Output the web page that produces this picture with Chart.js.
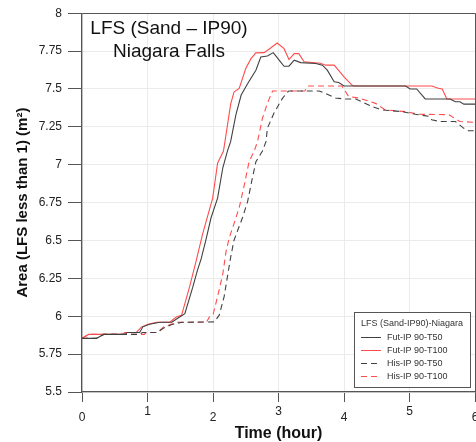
<!DOCTYPE html>
<html>
<head>
<meta charset="utf-8">
<script src="https://cdn.jsdelivr.net/npm/chart.js@4"></script>
<style>
  html, body { margin: 0; padding: 0; background: #fff; }
  #wrap { width: 476px; height: 442px; }
</style>
</head>
<body>
<div id="wrap"><canvas id="chart" width="476" height="442"></canvas></div>
<script>
// time (hour) and area values
const futT50Time = [0, 0.22, 0.33, 0.66, 0.69, 0.88, 0.93, 1.03, 1.19, 1.37, 1.49, 1.57, 1.69, 1.76, 1.82, 1.89, 1.97, 2.07, 2.15, 2.22, 2.27, 2.35, 2.43, 2.53, 2.655, 2.73, 2.83, 2.92, 3.01, 3.085, 3.16, 3.24, 3.34, 3.57, 3.67, 3.745, 3.85, 3.92, 4.0, 4.94, 5.01, 5.11, 5.24, 5.62, 5.70, 5.77, 5.83, 6.0];
const futT50Area = [5.854, 5.854, 5.88, 5.88, 5.893, 5.893, 5.93, 5.947, 5.96, 5.96, 5.995, 6.017, 6.19, 6.30, 6.38, 6.5, 6.65, 6.78, 6.98, 7.09, 7.154, 7.33, 7.46, 7.536, 7.624, 7.711, 7.718, 7.74, 7.69, 7.65, 7.65, 7.69, 7.674, 7.668, 7.657, 7.624, 7.548, 7.543, 7.52, 7.52, 7.50, 7.50, 7.434, 7.434, 7.416, 7.416, 7.40, 7.40];

const futT100Time = [0, 0.10, 0.63, 0.65, 0.83, 0.91, 1.01, 1.14, 1.34, 1.44, 1.52, 1.64, 1.74, 1.84, 1.995, 2.07, 2.16, 2.27, 2.32, 2.40, 2.50, 2.58, 2.655, 2.78, 2.88, 2.98, 3.085, 3.16, 3.24, 3.31, 3.39, 3.64, 3.72, 3.85, 4.0, 4.12, 4.15, 5.34, 5.44, 5.50, 5.57, 6.0];
const futT100Area = [5.854, 5.88, 5.88, 5.893, 5.893, 5.93, 5.947, 5.96, 5.96, 5.995, 6.006, 6.19, 6.36, 6.54, 6.78, 7.01, 7.09, 7.40, 7.48, 7.504, 7.635, 7.70, 7.738, 7.74, 7.77, 7.803, 7.766, 7.694, 7.733, 7.733, 7.68, 7.67, 7.657, 7.657, 7.58, 7.526, 7.52, 7.52, 7.505, 7.50, 7.434, 7.434];

const hisT50Time = [0, 0.22, 0.33, 0.88, 0.92, 1.15, 1.24, 1.37, 1.52, 2.02, 2.095, 2.17, 2.22, 2.27, 2.32, 2.375, 2.45, 2.53, 2.60, 2.655, 2.755, 2.81, 2.83, 2.93, 3.06, 3.14, 3.16, 3.62, 3.77, 3.87, 4.02, 4.18, 4.43, 4.58, 4.89, 5.09, 5.29, 5.34, 5.47, 5.70, 5.83, 5.90, 6.0];
const hisT50Area = [5.854, 5.854, 5.88, 5.88, 5.893, 5.893, 5.92, 5.945, 5.96, 5.963, 6.007, 6.13, 6.26, 6.39, 6.5, 6.564, 6.65, 6.76, 6.91, 7.02, 7.09, 7.154, 7.24, 7.34, 7.438, 7.48, 7.487, 7.487, 7.46, 7.44, 7.434, 7.434, 7.384, 7.362, 7.35, 7.333, 7.32, 7.296, 7.285, 7.285, 7.24, 7.224, 7.224];

const hisT100Time = [0, 0.10, 0.95, 0.98, 1.15, 1.25, 1.35, 1.45, 1.90, 1.945, 2.0, 2.07, 2.15, 2.20, 2.25, 2.32, 2.40, 2.48, 2.55, 2.63, 2.68, 2.755, 2.83, 2.91, 3.40, 3.45, 3.97, 4.07, 4.23, 4.48, 4.63, 4.94, 5.14, 5.60, 5.77, 6.0];
const hisT100Area = [5.854, 5.88, 5.88, 5.893, 5.893, 5.93, 5.945, 5.96, 5.96, 5.995, 6.01, 6.13, 6.28, 6.43, 6.52, 6.61, 6.717, 6.87, 7.02, 7.09, 7.154, 7.307, 7.405, 7.487, 7.487, 7.52, 7.52, 7.45, 7.44, 7.405, 7.362, 7.35, 7.333, 7.33, 7.285, 7.28];

const seriesNames = ["Fut-IP 90-T50", "Fut-IP 90-T100", "His-IP 90-T50", "His-IP 90-T100"];
const xTickLabels = ["0", "1", "2", "3", "4", "5", "6"];
const yTickLabels = ["5.5", "5.75", "6", "6.25", "6.5", "6.75", "7", "7.25", "7.5", "7.75", "8"];

const FONT = "'Liberation Sans', Arial, sans-serif";
const GREY = "#404040", RED = "#ff4d4d";

const pts = (t, a) => t.map((x, i) => ({ x: x, y: a[i] }));

function line(label, data, color, dash) {
    return {
        label: label,
        data: data,
        borderColor: color,
        borderWidth: 1.1,
        borderDash: dash,
        pointRadius: 0,
        tension: 0,
        fill: false
    };
}

// titles, alternating x labels, legend box
const decor = {
    id: "decor",
    afterDraw(chart) {
        const c = chart.ctx, xs = chart.scales.x, area = chart.chartArea;
        c.save();
        c.fillStyle = "#111";
        c.textAlign = "center";
        c.textBaseline = "alphabetic";
        c.font = "19px " + FONT;
        c.fillText("LFS (Sand \u2013 IP90)", 169, 34);
        c.fillText("Niagara Falls", 169, 57);

        c.font = "12px " + FONT;
        c.textBaseline = "middle";
        c.fillStyle = "#222";
        xTickLabels.forEach((l, i) => {
            c.fillText(l, xs.getPixelForValue(i), i % 2 ? 412 : 418);
        });

        c.font = "bold 16px " + FONT;
        c.fillStyle = "#111";
        c.fillText("Time (hour)", (area.left + area.right) / 2, 434);
        c.translate(23, (area.top + area.bottom) / 2);
        c.rotate(-Math.PI / 2);
        c.font = "bold 15px " + FONT;
        c.fillText("Area (LFS less than 1) (m\u00b2)", 0, 0);
        c.restore();

        // legend
        c.save();
        c.strokeStyle = "#555";
        c.lineWidth = 1;
        c.fillStyle = "#fff";
        c.fillRect(354.5, 312.5, 116, 75);
        c.strokeRect(354.5, 312.5, 116, 75);
        c.font = "9px " + FONT;
        c.fillStyle = "#333";
        c.textAlign = "left";
        c.textBaseline = "middle";
        c.fillText("LFS (Sand-IP90)-Niagara", 361, 324);
        chart.data.datasets.forEach((ds, i) => {
            const y = 337.5 + i * 13;
            c.strokeStyle = ds.borderColor;
            c.setLineDash(ds.borderDash || []);
            c.beginPath();
            c.moveTo(361, y);
            c.lineTo(381, y);
            c.stroke();
            c.setLineDash([]);
            c.fillText(ds.label, 387, y);
        });
        c.restore();
    }
};

new Chart(document.getElementById("chart"), {
    type: "line",
    data: {
        datasets: [
            line(seriesNames[0], pts(futT50Time, futT50Area), GREY, []),
            line(seriesNames[1], pts(futT100Time, futT100Area), RED, []),
            line(seriesNames[2], pts(hisT50Time, hisT50Area), GREY, [6, 4]),
            line(seriesNames[3], pts(hisT100Time, hisT100Area), RED, [6, 4])
        ]
    },
    options: {
        responsive: false,
        animation: false,
        layout: { padding: { top: 11, right: 1, bottom: 0, left: 0 } },
        plugins: { legend: { display: false }, tooltip: { enabled: false } },
        scales: {
            x: {
                type: "linear",
                min: 0, max: 6,
                ticks: { stepSize: 1, display: false },
                grid: {
                    color: c => c.tick && c.tick.value === 6 ? "#555" : "#ebebeb",
                    tickColor: "#555",
                    tickLength: 10
                },
                border: { color: "#555", width: 1.3 },
                afterFit: s => { s.height = 50; }
            },
            y: {
                min: 5.5, max: 8,
                ticks: {
                    stepSize: 0.25,
                    padding: 6,
                    color: "#222",
                    font: { family: FONT, size: 12 },
                    callback: (v, i) => yTickLabels[i]
                },
                grid: {
                    color: c => c.tick && c.tick.value === 8 ? "#555" : "#ebebeb",
                    tickColor: "#555",
                    tickLength: 14
                },
                border: { color: "#555", width: 1.3 },
                afterFit: s => { s.width = 82; }
            }
        }
    },
    plugins: [decor]
});
</script>
</body>
</html>
